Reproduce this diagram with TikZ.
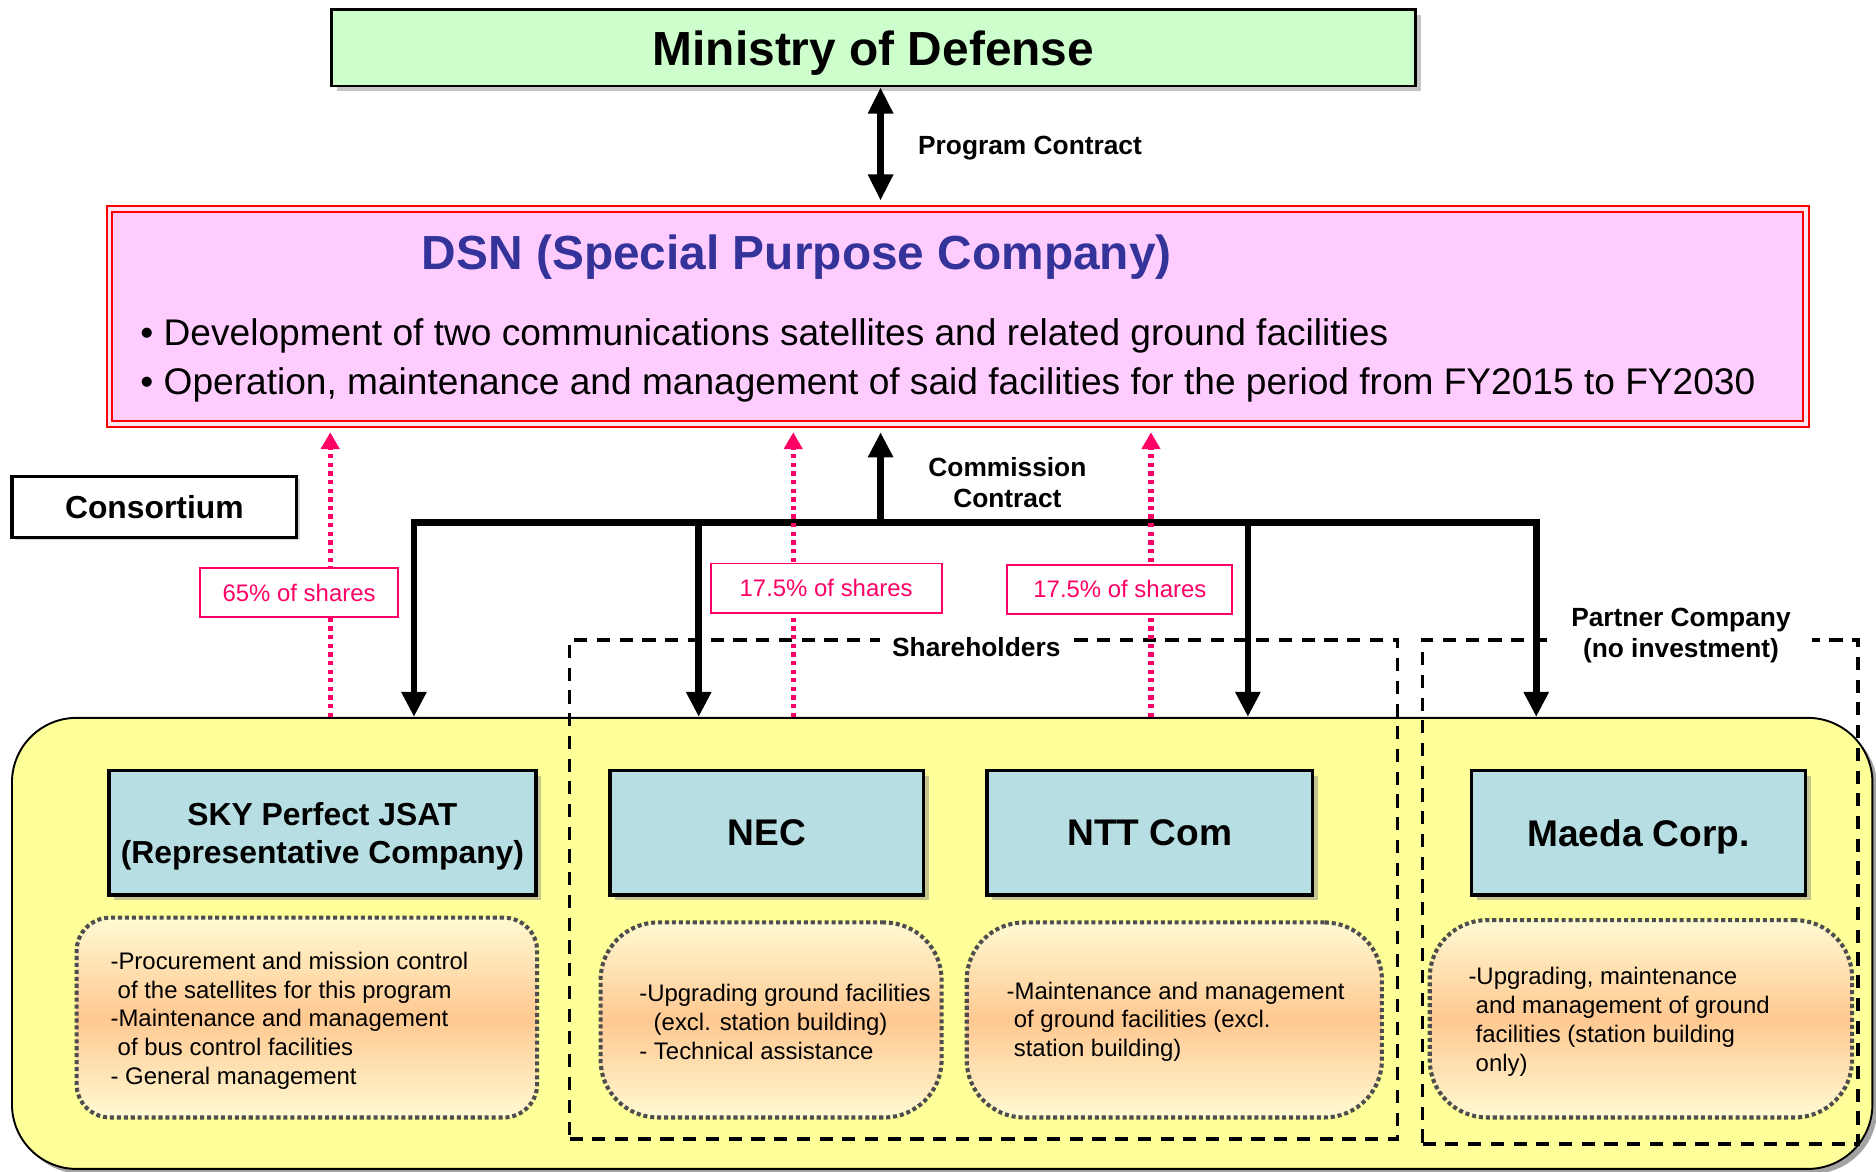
\documentclass[tikz,border=0pt]{standalone}
\usepackage{fontspec}
\setmainfont{Liberation Sans}
\usetikzlibrary{arrows.meta,shadows,calc}
\definecolor{modgreen}{HTML}{CCFFCC}
\definecolor{dsnpink}{HTML}{FFCCFF}
\definecolor{dsnred}{HTML}{FF0000}
\definecolor{dsngap}{HTML}{FFE6F5}
\definecolor{dsnblue}{HTML}{333399}
\definecolor{yel}{HTML}{FFFF99}
\definecolor{cobox}{HTML}{B7DEE3}
\definecolor{shpink}{HTML}{FF0066}
\definecolor{descL}{HTML}{FFFAD2}
\definecolor{descM}{HTML}{FFC891}
\definecolor{dotgray}{HTML}{4D4D4D}
\begin{document}
\begin{tikzpicture}[x=0.5pt,y=-0.5pt,
  shadowed/.style={drop shadow={shadow xshift=2.2pt,shadow yshift=-2.2pt,fill=black!50,opacity=0.45}},
  modbox/.style={rectangle,draw=black,line width=1pt,fill=modgreen,inner sep=0pt,text depth=0pt,
    minimum width=453pt,minimum height=32pt,font=\bfseries\fontsize{20}{24}\selectfont,shadowed},
  dsnbox/.style={rectangle,draw=dsnred,line width=0.8pt,double=dsngap,double distance=1.6pt,
    fill=dsnpink,inner sep=0pt,minimum width=709pt,minimum height=90pt},
  dsntitle/.style={font=\bfseries\fontsize{20}{24}\selectfont,text=dsnblue,inner sep=0pt,text depth=0pt},
  bullets/.style={font=\fontsize{15.5}{20.5}\selectfont,align=left,inner sep=0pt},
  lbl/.style={font=\bfseries\fontsize{11}{13}\selectfont,align=center,inner sep=1pt},
  whitelbl/.style={lbl,fill=white,inner xsep=5pt,inner ysep=1pt},
  heavyarr/.style={line width=2.8pt,-{Triangle[length=10.5pt,width=10pt]}},
  biarr/.style={line width=2.8pt,{Triangle[length=11pt,width=10pt]}-{Triangle[length=11pt,width=10pt]}},
  pinkarr/.style={draw=shpink,line width=2.2pt,dash pattern=on 1.8pt off 1.8pt,-{Triangle[length=7pt,width=7.5pt]}},
  sharebox/.style={rectangle,draw=shpink,line width=0.8pt,fill=white,text=shpink,
    font=\fontsize{10}{12}\selectfont,minimum height=20.5pt,inner sep=0pt},
  consbox/.style={rectangle,draw=black,line width=1.3pt,fill=white,minimum width=119pt,minimum height=25.5pt,
    font=\bfseries\fontsize{13.3}{16}\selectfont,inner sep=0pt,
    drop shadow={shadow xshift=1.2pt,shadow yshift=-1.2pt,fill=black!40,opacity=0.4}},
  yelbox/.style={rectangle,draw=black,line width=0.8pt,fill=yel,rounded corners=27pt,
    minimum width=777.5pt,minimum height=188.5pt,inner sep=0pt,
    drop shadow={shadow xshift=2pt,shadow yshift=-2pt,fill=black!60,opacity=0.6}},
  dashbox/.style={rectangle,draw=black,line width=1.6pt,dash pattern=on 5.5pt off 4pt,inner sep=0pt},
  cobx/.style={rectangle,draw=black,line width=1.5pt,fill=cobox,minimum height=52pt,inner sep=0pt,text depth=0pt,
    font=\bfseries\fontsize{15.5}{18}\selectfont,align=center,shadowed},
  descbox/.style={rectangle,draw=dotgray,line width=1.7pt,dash pattern=on 1.7pt off 1.2pt,
    top color=descL,bottom color=descL,middle color=descM,inner sep=0pt},
  desctext/.style={font=\fontsize{10}{12}\selectfont,align=left,inner sep=0pt,anchor=west}
]
\useasboundingbox (0,0) rectangle (1568,979);

% Ministry of Defense
\node[modbox] (mod) at (730,40) {Ministry of Defense};

% DSN
\node[dsnbox] (dsn) at (800.5,264.5) {};
\node[dsntitle] (dsnt) at (666,211) {DSN (Special Purpose Company)};
\node[bullets,anchor=west] (dsnb) at (117,301.5)
  {• Development of two communications satellites and related ground facilities\\
   • Operation, maintenance and management of said facilities for the period from FY2015 to FY2030};

% Program contract
\coordinate (pc) at (736,0);
\draw[biarr,shorten >=3pt] (mod.south -| pc) -- (dsn.north -| pc);
\node[lbl,anchor=west] (pcl) at (765,124) {Program Contract};

% Consortium yellow area
\node[yelbox] (yb) at (787.5,788.5) {};

% Dashed groups
\node[dashbox,minimum width=346pt,minimum height=208.5pt] (shg) at (822,743.5) {};
\node[dashbox,minimum width=182pt,minimum height=210.5pt] (ptg) at (1371,745.5) {};
\node[whitelbl] (shl) at (816,541) {Shareholders};
\node[whitelbl,inner xsep=9pt] (ptl) at (1405,531) {Partner Company\\(no investment)};

% Consortium label
\node[consbox] (cons) at (129,423.5) {Consortium};

% Commission contract bar and arrows
\coordinate (bl) at (346,437);
\coordinate (br) at (1284,437);
\coordinate (bm) at (736,437);
\coordinate (b2) at (584,437);
\coordinate (b3) at (1043,437);
\draw[heavyarr] (br) -- (bl) -- (yb.north -| bl);
\draw[heavyarr] (bl) -- (br) -- (yb.north -| br);
\draw[heavyarr] (b2) -- (yb.north -| b2);
\draw[heavyarr] (b3) -- (yb.north -| b3);
\draw[heavyarr,shorten >=3pt] (bm) -- (dsn.south -| bm);
\node[lbl] (ccl) at (842,403) {Commission\\Contract};

% Share arrows
\coordinate (p1) at (276,0);
\coordinate (p2) at (663,0);
\coordinate (p3) at (962,0);
\draw[pinkarr,shorten >=3pt] (yb.north -| p1) -- (dsn.south -| p1);
\draw[pinkarr,shorten >=3pt] (yb.north -| p2) -- (dsn.south -| p2);
\draw[pinkarr,shorten >=3pt] (yb.north -| p3) -- (dsn.south -| p3);
\node[sharebox,minimum width=83pt] (s1) at (250,495.5) {65\% of shares};
\node[sharebox,minimum width=96.5pt] (s2) at (690.5,491.5) {17.5\% of shares};
\node[sharebox,minimum width=94pt] (s3) at (936,492.5) {17.5\% of shares};

% Company boxes
\node[cobx,minimum width=178.5pt,font=\bfseries\fontsize{13.3}{16}\selectfont] (sky) at (269.5,696)
  {SKY Perfect JSAT\\(Representative Company)};
\node[cobx,minimum width=131pt] (nec) at (641,696) {NEC};
\node[cobx,minimum width=136pt] (ntt) at (961,696) {NTT Com};
\node[cobx,minimum width=139.5pt] (maeda) at (1369.5,696) {Maeda Corp.};

% Description boxes
\node[descbox,minimum width=192.5pt,minimum height=83.5pt,rounded corners=14pt] (dsky) at (256.5,850.5) {};
\node[descbox,minimum width=142.5pt,minimum height=81.5pt,rounded corners=24pt] (dnec) at (644.5,852.5) {};
\node[descbox,minimum width=173.5pt,minimum height=81.5pt,rounded corners=24pt] (dntt) at (981.5,852.5) {};
\node[descbox,minimum width=176.5pt,minimum height=82.5pt,rounded corners=24pt] (dmaeda) at (1371.5,851.5) {};

\node[desctext] (tsky) at (92,853)
  {-Procurement and mission control\\
   \hspace*{3pt}of the satellites for this program\\
   -Maintenance and management\\
   \hspace*{3pt}of bus control facilities\\
   - General management};
\node[desctext] (tnec) at (534,854)
  {-Upgrading ground facilities\\
   \hspace*{6pt}(excl. station building)\\
   - Technical assistance};
\node[desctext] (tntt) at (841,854)
  {-Maintenance and management\\
   \hspace*{3pt}of ground facilities (excl.\\
   \hspace*{3pt}station building)};
\node[desctext] (tmaeda) at (1227,854)
  {-Upgrading, maintenance\\
   \hspace*{3pt}and management of ground\\
   \hspace*{3pt}facilities (station building\\
   \hspace*{3pt}only)};
\end{tikzpicture}
\end{document}
